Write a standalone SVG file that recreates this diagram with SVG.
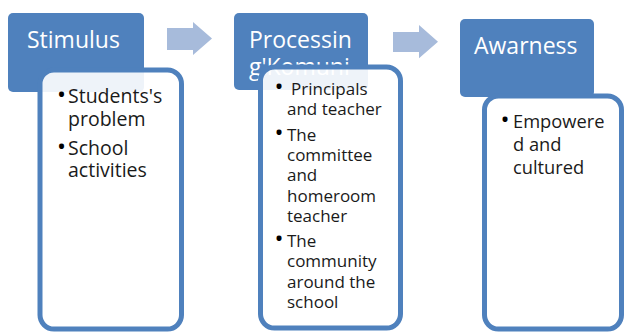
<svg xmlns="http://www.w3.org/2000/svg" width="625" height="332" viewBox="0 0 625 332">
<style>
.hdr{fill:#4f81bd}
.hdrt{fill:#ffffff;font-family:"Open Sans","Noto Sans",sans-serif;font-size:23px}
.box{fill:#ffffff;fill-opacity:0.9;stroke:#4f81bd;stroke-width:5}
.arr{fill:#a7bbdb}
.t1{fill:#1a1a1a;font-family:"Open Sans","Noto Sans",sans-serif;font-size:19.5px}
.t2{fill:#1a1a1a;font-family:"Open Sans","Noto Sans",sans-serif;font-size:17px}
.t3{fill:#1a1a1a;font-family:"Open Sans","Noto Sans",sans-serif;font-size:18.3px}
.b{font-size:24px;fill:#000000}
</style>
<rect width="625" height="332" fill="#ffffff"/>
<g id="connectors">
<polygon class="arr" points="167,28 193,28 193,22 212,38.5 193,55 193,50 167,50"/>
<polygon class="arr" points="393,32 419,32 419,25 438,41.7 419,58.3 419,52 393,52"/>
</g>
<g id="stimulus">
<rect class="hdr" x="8" y="13" width="136" height="79" rx="5"/>
<text class="hdrt" x="27" y="48">Stimulus</text>
<rect class="box" x="40" y="70" width="141.5" height="259" rx="14"/>
<text class="t1" x="57" y="103"><tspan class="b">•</tspan><tspan x="68">Students's</tspan></text>
<text class="t1" x="68" y="126">problem</text>
<text class="t1" x="57" y="155"><tspan class="b">•</tspan><tspan x="68">School</tspan></text>
<text class="t1" x="68" y="177">activities</text>
</g>
<g id="processing">
<rect class="hdr" x="234" y="13" width="134" height="77" rx="5"/>
<text class="hdrt" x="249" y="48">Processin</text>
<text class="hdrt" x="249" y="75">g'Komuni</text>
<rect class="box" x="260.5" y="67" width="140" height="261" rx="14"/>
<text class="t2" x="274.5" y="95"><tspan class="b">•</tspan><tspan x="291">Principals</tspan></text>
<text class="t2" x="287" y="115">and teacher</text>
<text class="t2" x="274.5" y="141"><tspan class="b">•</tspan><tspan x="287">The</tspan></text>
<text class="t2" x="287" y="161">committee</text>
<text class="t2" x="287" y="181">and</text>
<text class="t2" x="287" y="202">homeroom</text>
<text class="t2" x="287" y="222">teacher</text>
<text class="t2" x="274.5" y="247"><tspan class="b">•</tspan><tspan x="287">The</tspan></text>
<text class="t2" x="287" y="267">community</text>
<text class="t2" x="287" y="288">around the</text>
<text class="t2" x="287" y="308">school</text>
</g>
<g id="awarness">
<rect class="hdr" x="460" y="19" width="134" height="78" rx="5"/>
<text class="hdrt" x="474" y="54">Awarness</text>
<rect class="box" x="484.5" y="96" width="137" height="233" rx="14"/>
<text class="t3" x="500.5" y="128"><tspan class="b">•</tspan><tspan x="513">Empowere</tspan></text>
<text class="t3" x="513" y="151">d and</text>
<text class="t3" x="513" y="174">cultured</text>
</g>
</svg>
